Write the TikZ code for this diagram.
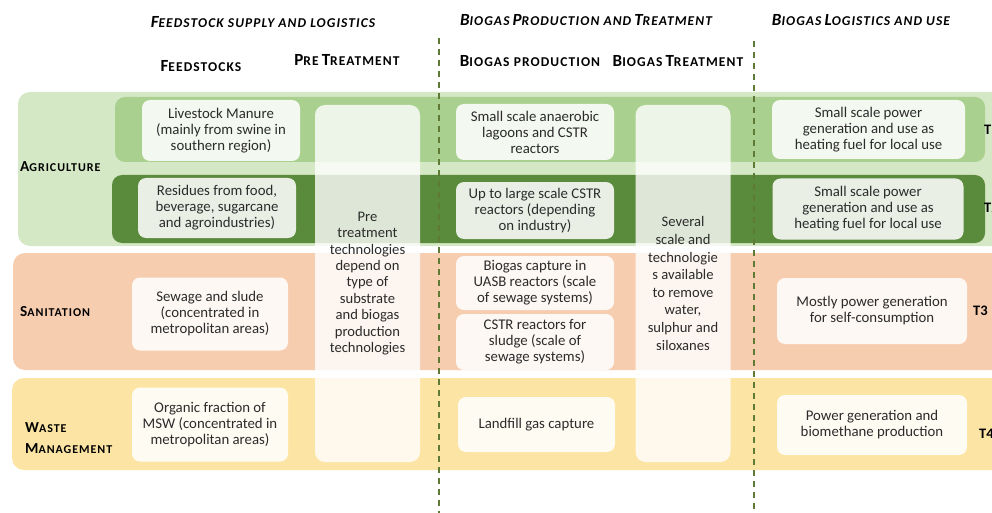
\documentclass[tikz,border=0pt]{standalone}
\usepackage{fontspec}
\setmainfont{Carlito}
\newfontfamily\hfont[LetterSpace=8]{Carlito}
\newcommand\Sc[2]{{\fontsize{17}{20}\selectfont #1}{\fontsize{13.5}{16}\selectfont #2}}
\newcommand\Sr[2]{{\fontsize{15.3}{18}\selectfont #1}{\fontsize{12}{14}\selectfont #2}}
\definecolor{agri}{HTML}{D5E8C5}
\definecolor{rowone}{HTML}{A9D08E}
\definecolor{rowtwo}{HTML}{5A8A3B}
\definecolor{sanit}{HTML}{F7CDB0}
\definecolor{waste}{HTML}{FCE5A4}
\definecolor{txt}{HTML}{2B2B2B}
\definecolor{dashc}{HTML}{5E7A35}
\begin{document}
\begin{tikzpicture}[x=1pt,y=-1pt,
  box/.style={fill=white,fill opacity=0.87,text opacity=1,rounded corners=8pt,
    align=center,text=txt,inner sep=0pt,
    font=\fontsize{14.8}{16}\selectfont},
  col/.style={fill=white,fill opacity=0.8,text opacity=1,rounded corners=10pt,
    align=center,text=txt,inner sep=0pt,minimum height=357pt,
    font=\fontsize{14.6}{16.4}\selectfont},
  hdr/.style={text=black,inner sep=0pt,font=\hfont\bfseries},
  thdr/.style={text=black,inner sep=0pt,font=\hfont\bfseries\itshape},
  rowlab/.style={text=black,inner sep=0pt,anchor=west,align=left,
    font=\hfont\bfseries\fontsize{15}{21}\selectfont},
  tlab/.style={text=black,inner sep=0pt,anchor=west,font=\fontsize{14.5}{16}\selectfont\bfseries},
  sep/.style={draw=dashc,line width=1.1pt,dash pattern=on 6pt off 5pt}]
\useasboundingbox (0,0) rectangle (992,513);
\clip (0,0) rectangle (992,513);
\fill[white] (0,0) rectangle (992,513);
% bands
\fill[agri,rounded corners=12pt] (18,92) rectangle (1010,246);
\fill[rowone,rounded corners=10pt] (115,97) rectangle (985,162);
\fill[rowtwo,rounded corners=10pt] (112,175) rectangle (985,243);
\fill[sanit,rounded corners=12pt] (13,253) rectangle (1010,370);
\fill[waste,rounded corners=12pt] (12,378) rectangle (1010,470);
% columns
\node[col,minimum width=105pt] (pre) at (367.5,283.5) {Pre\\treatment\\technologies\\depend on\\type of\\substrate\\and biogas\\production\\technologies};
\node[col,minimum width=95pt,font=\fontsize{14.6}{17.6}\selectfont] (treat) at (683,283.5) {Several\\scale and\\technologie\\s available\\to remove\\water,\\sulphur and\\siloxanes};
% feedstock boxes
\node[box,minimum width=158pt,minimum height=61pt] (live) at (221,130.5) {Livestock Manure\\(mainly from swine in\\southern region)};
\node[box,minimum width=158pt,minimum height=60pt] (resid) at (217,208) {Residues from food,\\beverage, sugarcane\\and agroindustries)};
\node[box,minimum width=156pt,minimum height=73pt] (sew) at (210,314) {Sewage and slude\\(concentrated in\\metropolitan areas)};
\node[box,minimum width=156pt,minimum height=74pt] (org) at (210,424.5) {Organic fraction of\\MSW (concentrated in\\metropolitan areas)};
% production boxes
\node[box,minimum width=158pt,minimum height=56pt] (lag) at (535,132) {Small scale anaerobic\\lagoons and CSTR\\reactors};
\node[box,minimum width=158pt,minimum height=57pt] (large) at (535,210.5) {Up to large scale CSTR\\reactors (depending\\on industry)};
\node[box,minimum width=158pt,minimum height=54pt] (uasb) at (535,283) {Biogas capture in\\UASB reactors (scale\\of sewage systems)};
\node[box,minimum width=158pt,minimum height=56pt] (sludge) at (535,342) {CSTR reactors for\\sludge (scale of\\sewage systems)};
\node[box,minimum width=157pt,minimum height=55pt] (land) at (536.5,424.5) {Landfill gas capture};
% use boxes
\node[box,minimum width=193pt,minimum height=59pt] (use1) at (868.5,129.5) {Small scale power\\generation and use as\\heating fuel for local use};
\node[box,minimum width=191pt,minimum height=61pt] (use2) at (868,209) {Small scale power\\generation and use as\\heating fuel for local use};
\node[box,minimum width=190pt,minimum height=66pt] (use3) at (872,311) {Mostly power generation\\for self-consumption};
\node[box,minimum width=190pt,minimum height=60pt] (use4) at (872,425) {Power generation and\\biomethane production};
% T labels
\node[tlab] (t1) at (984,130) {T1};
\node[tlab] (t2) at (984,208) {T2};
\node[tlab] (t3) at (973,311) {T3};
\node[tlab] (t4) at (979,434) {T4};
% row labels
\node[rowlab] (lagri) at (20,167) {\Sr{A}{GRICULTURE}};
\node[rowlab] (lsan) at (20,312) {\Sr{S}{ANITATION}};
\node[rowlab] (lwaste) at (25,438) {\Sr{W}{ASTE}\\\Sr{M}{ANAGEMENT}};
% headers
\node[thdr] (h1) at (263,22) {\Sc{F}{EEDSTOCK SUPPLY AND LOGISTICS}};
\node[thdr] (h2) at (586,20) {\Sc{B}{IOGAS} \Sc{P}{RODUCTION AND} \Sc{T}{REATMENT}};
\node[thdr] (h3) at (861,20) {\Sc{B}{IOGAS} \Sc{L}{OGISTICS AND USE}};
\node[hdr] (s1) at (201,66) {\Sc{F}{EEDSTOCKS}};
\node[hdr] (s2) at (347,60) {\Sc{P}{RE} \Sc{T}{REATMENT}};
\node[hdr] (s3) at (530,61) {\Sc{B}{IOGAS PRODUCTION}};
\node[hdr] (s4) at (678,61) {\Sc{B}{IOGAS} \Sc{T}{REATMENT}};
% dashed separators
\coordinate (d1t) at (439,38); \coordinate (d1b) at (439,513);
\coordinate (d2t) at (754,41); \coordinate (d2b) at (754,513);
\draw[sep] (d1t) -- (d1b);
\draw[sep] (d2t) -- (d2b);
\end{tikzpicture}
\end{document}
